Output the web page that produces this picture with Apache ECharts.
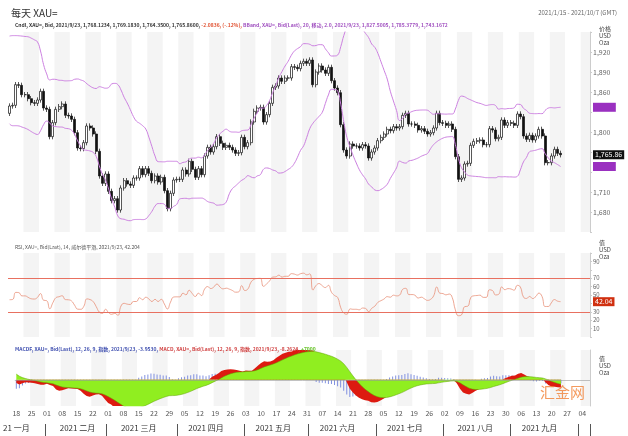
<!DOCTYPE html>
<html>
<head>
<meta charset="utf-8">
<script src="https://cdn.jsdelivr.net/npm/echarts@6/dist/echarts.min.js"></script>
<style>
html,body{margin:0;padding:0;background:#fff;}
#main{width:628px;height:436px;}
</style>
</head>
<body>
<div id="main"></div>
<script>
// daily closes, one per weekday, starting 2020-12-01 (warm-up for the indicators)
var warmupCloses = [1815,1831,1841,1838,1864,1870,1838,1836,1839,1827,1855,1854,1886,1881,1871,1861,1871,1876,1877,1878,1877,1893,1895,
	1895,1943,1950,1919,1913,1849,1845,1855,1846,1851,1828];
// shown closes, every weekday 2021-01-18 .. 2021-09-23
var closes = [1839,1840,1871,1870,1856,1856,1850,1844,1843,1848,
	1861,1836,1834,1793,1814,1834,1838,1842,1825,1824,1819,1799,1776,1775,1784,1809,1806,1797,1771,1734,
	1723,1737,1711,1697,1700,1683,1716,1727,1722,1720,1731,1731,1745,1736,1745,1738,1727,1734,1725,1732,1712,1685,1708,
	1728,1729,1729,1743,1737,1756,1744,1732,1745,1736,1764,1777,1770,1778,1793,1783,1777,1780,1777,1773,1768,1769,
	1792,1778,1784,1815,1831,1836,1837,1815,1826,1843,1867,1869,1881,1876,1881,1881,1898,1897,1895,1903,1906,
	1903,1908,1871,1890,1899,1893,1888,1897,1877,1866,1859,1811,1773,1764,1782,1779,1779,1776,1781,1779,1761,1770,
	1776,1787,1792,1797,1804,1802,1808,1806,1808,1825,1828,1812,1812,1810,1803,1805,1801,1797,1799,1806,1828,1814,
	1813,1810,1812,1804,1763,1729,1731,1752,1753,1780,1786,1787,1788,1781,1781,1805,1803,1790,1792,1818,1810,1814,
	1813,1810,1827,1823,1794,1789,1795,1788,1794,1804,1794,1754,1754,1764,1774,1768,1765.86];
var wick = 4;
var monthNames = ['一月','二月','三月','四月','五月','六月','七月','八月','九月','十月'];
var priceTicks = [1680,1710,1800,1860,1890,1920];
var rsiTicks = [10,20,30,50,60,70,90];

// weekday categories
function weekdays(from, to){
	var out = [], d = new Date(from + 'T00:00:00Z'), end = new Date(to + 'T00:00:00Z');
	while (d <= end){
		var w = d.getUTCDay();
		if (w > 0 && w < 6) out.push(d.toISOString().slice(0,10));
		d.setUTCDate(d.getUTCDate() + 1);
	}
	return out;
}
var dates = weekdays('2021-01-18','2021-10-06');
var all = warmupCloses.concat(closes);
var off = warmupCloses.length;

// candles: open = previous close
var candles = closes.map(function(c, i){
	var o = all[off + i - 1];
	return [o, c, Math.min(o, c) - wick, Math.max(o, c) + wick];
});

// bollinger 20, 2
var bbUp = [], bbDn = [];
for (var i = off; i < all.length; i++){
	var s = all.slice(i - 19, i + 1), m = s.reduce(function(a,b){return a+b;},0) / 20;
	var sd = Math.sqrt(s.reduce(function(a,b){return a+(b-m)*(b-m);},0) / 20);
	bbUp.push(+(m + 2*sd).toFixed(2)); bbDn.push(+(m - 2*sd).toFixed(2));
}
// rsi 14 wilder
var rsi = [], ag = 0, al = 0;
for (var i = 1; i < all.length; i++){
	var ch = all[i] - all[i-1], g = Math.max(ch,0), l = Math.max(-ch,0);
	if (i <= 14){ ag += g/14; al += l/14; }
	else { ag = (ag*13 + g)/14; al = (al*13 + l)/14; }
	if (i >= off) rsi.push(+(100 - 100/(1 + ag/(al||1e-9))).toFixed(2));
}
// macd 12 26 9
function ema(arr, n){ var k = 2/(n+1), out = [arr[0]]; for (var i = 1; i < arr.length; i++) out.push(arr[i]*k + out[i-1]*(1-k)); return out; }
var e12 = ema(all,12), e26 = ema(all,26);
var macdAll = e12.map(function(v,i){return v - e26[i];});
var sigAll = ema(macdAll, 9);
var macd = macdAll.slice(off).map(function(v){return +v.toFixed(2);});
var sig = sigAll.slice(off).map(function(v){return +v.toFixed(2);});
var hist = macd.map(function(v,i){return +(v - sig[i]).toFixed(2);});

function isMonday(i){ return new Date(dates[i] + 'T00:00:00Z').getUTCDay() === 1; }
function isMonthStart(i){ return i > 0 && dates[i].slice(5,7) !== dates[i-1].slice(5,7); }
function isMidMonth(i){
	var d = +dates[i].slice(8,10);
	if (i === 2) return true;
	return d >= 14 && !(i > 0 && +dates[i-1].slice(8,10) >= 14 && dates[i-1].slice(5,7) === dates[i].slice(5,7));
}

var font = 'Noto Sans CJK SC';
var splitArea = {show:true, interval:function(i){return isMonday(i);}, areaStyle:{color:['#ffffff','#f4f4f4']}};
function xHidden(g){
	return {type:'category', gridIndex:g, data:dates, boundaryGap:true, axisLine:{show:false}, axisTick:{show:false},
		axisLabel:{show:false}, splitArea:splitArea};
}
var last = closes.length - 1;
// value tag on the right axis, a markLine item without a visible line
function tag(val, bg, txt){
	return {yAxis:val, lineStyle:{width:0, color:'rgba(0,0,0,0)'},
		label:{show:true, position:'end', distance:3, formatter:txt, color:'#fff', backgroundColor:bg, fontSize:7, padding:[1,2], fontFamily:font}};
}

var chart = echarts.init(document.getElementById('main'));
chart.setOption({
	animation:false,
	textStyle:{fontFamily:font},
	title:[
		{text:'每天 XAU=', left:6, top:3, textStyle:{fontSize:10, fontWeight:'normal', color:'#333'}},
		{text:'2021/1/15 - 2021/10/7 (GMT)', right:6, top:5, textStyle:{fontSize:6, fontWeight:'normal', color:'#666'}},
		{text:'{k|Cndl, XAU=, Bid, 2021/9/23, 1,768.1234, 1,769.1830, 1,764.3500, 1,765.8600, }{r|-2.0836, (-.12%), }{p|BBand, XAU=, Bid(Last), 20, 移动, 2.0, 2021/9/23, 1,827.5005, 1,785.3779, 1,743.1672}',
			left:10, top:18, textStyle:{fontSize:5, rich:{k:{fontSize:5,color:'#333'},r:{fontSize:5,color:'#e05030'},p:{fontSize:5,color:'#a050c0'}}}},
		{text:'RSI, XAU=, Bid(Last), 14, 威尔德平滑, 2021/9/23, 42.204', left:10, top:240, textStyle:{fontSize:5, fontWeight:'normal', color:'#555'}},
		{text:'{b|MACDF, XAU=, Bid(Last), 12, 26, 9, 指数, 2021/9/23, -3.9530, }{r|MACD, XAU=, Bid(Last), 12, 26, 9, 指数, 2021/9/23, -8.2624, }{g|+7000}',
			left:10, top:342, textStyle:{fontSize:5, rich:{b:{fontSize:5,color:'#4050b0'},r:{fontSize:5,color:'#d04040'},g:{fontSize:5,color:'#60c020'}}}},
		{text:'价格\nUSD\nOza', left:594, top:20, textStyle:{fontSize:6, fontWeight:'normal', color:'#444', lineHeight:7}},
		{text:'值\nUSD\nOza', left:594, top:234, textStyle:{fontSize:6, fontWeight:'normal', color:'#444', lineHeight:7}},
		{text:'值\nUSD\nOza', left:594, top:350, textStyle:{fontSize:6, fontWeight:'normal', color:'#444', lineHeight:7}},
		{text:'汇金网', left:535, top:380, textStyle:{fontSize:15, fontWeight:'normal', color:'rgba(240,120,40,0.75)'}}
	],
	grid:[
		{left:8, right:38, top:32, height:200},
		{left:8, right:38, top:253, height:84},
		{left:8, right:38, top:350, height:56}
	],
	xAxis:[
		xHidden(0), xHidden(1),
		{type:'category', gridIndex:2, data:dates, boundaryGap:true, axisLine:{show:false}, axisTick:{show:false},
			axisLabel:{interval:function(i){return isMonday(i);}, formatter:function(v){return v.slice(8,10);}, fontSize:7, color:'#555', margin:4},
			splitArea:splitArea},
		{type:'category', gridIndex:2, data:dates, boundaryGap:true, position:'bottom', offset:30,
			axisLine:{show:false}, axisTick:{show:true, inside:true, length:12, interval:function(i){return isMonthStart(i);}, lineStyle:{color:'#555'}},
			axisLabel:{interval:function(i){return isMidMonth(i);}, margin:-12, fontSize:8, color:'#333', showMinLabel:true,
				formatter:function(v){ var m = +v.slice(5,7); return (m === 1 ? '21 ' : '2021 ') + monthNames[m-1]; }}}
	],
	yAxis:[
		{type:'value', gridIndex:0, position:'right', min:1650, max:1950, interval:30, splitLine:{show:false},
			axisLine:{show:true, lineStyle:{color:'#ccc'}}, axisTick:{show:true, length:2},
			axisLabel:{fontSize:7, color:'#666', margin:3, formatter:function(v){return priceTicks.indexOf(v) >= 0 ? v.toLocaleString('en-US') : '';}}},
		{type:'value', gridIndex:1, position:'right', min:0, max:100, interval:10, splitLine:{show:false},
			axisLine:{show:true, lineStyle:{color:'#ccc'}}, axisTick:{show:true, length:2},
			axisLabel:{fontSize:6, color:'#666', margin:3, formatter:function(v){return rsiTicks.indexOf(v) >= 0 ? v : '';}}},
		{type:'value', gridIndex:2, position:'right', min:-28, max:32, splitLine:{show:false},
			axisLine:{show:true, lineStyle:{color:'#ccc'}}, axisTick:{show:false}, axisLabel:{show:false}}
	],
	series:[
		{type:'candlestick', xAxisIndex:0, yAxisIndex:0, data:candles, barWidth:2.5, clip:false,
			itemStyle:{color:'#fff', color0:'#111', borderColor:'#111', borderColor0:'#111', borderWidth:0.7},
			markLine:{silent:true, symbol:'none', data:[
				tag(bbUp[last], '#9a30c0', '            '),
				tag(closes[last], '#111', closes[last].toLocaleString('en-US',{minimumFractionDigits:2})),
				tag(bbDn[last], '#9a30c0', '            ')]}},
		{type:'line', xAxisIndex:0, yAxisIndex:0, data:bbUp, symbol:'none', smooth:true, lineStyle:{color:'#cc80e0', width:1}},
		{type:'line', xAxisIndex:0, yAxisIndex:0, data:bbDn, symbol:'none', smooth:true, lineStyle:{color:'#cc80e0', width:1}},
		{type:'line', xAxisIndex:1, yAxisIndex:1, data:rsi, symbol:'none', smooth:true, clip:false, lineStyle:{color:'#e89078', width:0.8},
			markLine:{silent:true, symbol:'none', data:[{yAxis:70},{yAxis:30},{yAxis:rsi[last], lineStyle:{width:0, color:'rgba(0,0,0,0)'},
				label:{show:true, position:'end', distance:3, formatter:String(rsi[last]), color:'#fff', backgroundColor:'#d03010', fontSize:7, padding:[1,2]}}],
				lineStyle:{color:'#e87060', type:'solid', width:1}, label:{show:false}}},
		{type:'line', xAxisIndex:2, yAxisIndex:2, data:macd, symbol:'none', lineStyle:{width:0}, areaStyle:{color:'#dd1a10', opacity:1}},
		{type:'line', xAxisIndex:2, yAxisIndex:2, data:sig, symbol:'none', lineStyle:{width:0.5, color:'#60a000'}, areaStyle:{color:'#90ee20', opacity:1}},
		{type:'bar', xAxisIndex:2, yAxisIndex:2, data:hist, barWidth:1, itemStyle:{color:'#8090e0'},
			markLine:{silent:true, symbol:'none', data:[{yAxis:0}], lineStyle:{color:'#999', width:0.6, type:'solid'}, label:{show:false}}}
	]
});
</script>
</body>
</html>
